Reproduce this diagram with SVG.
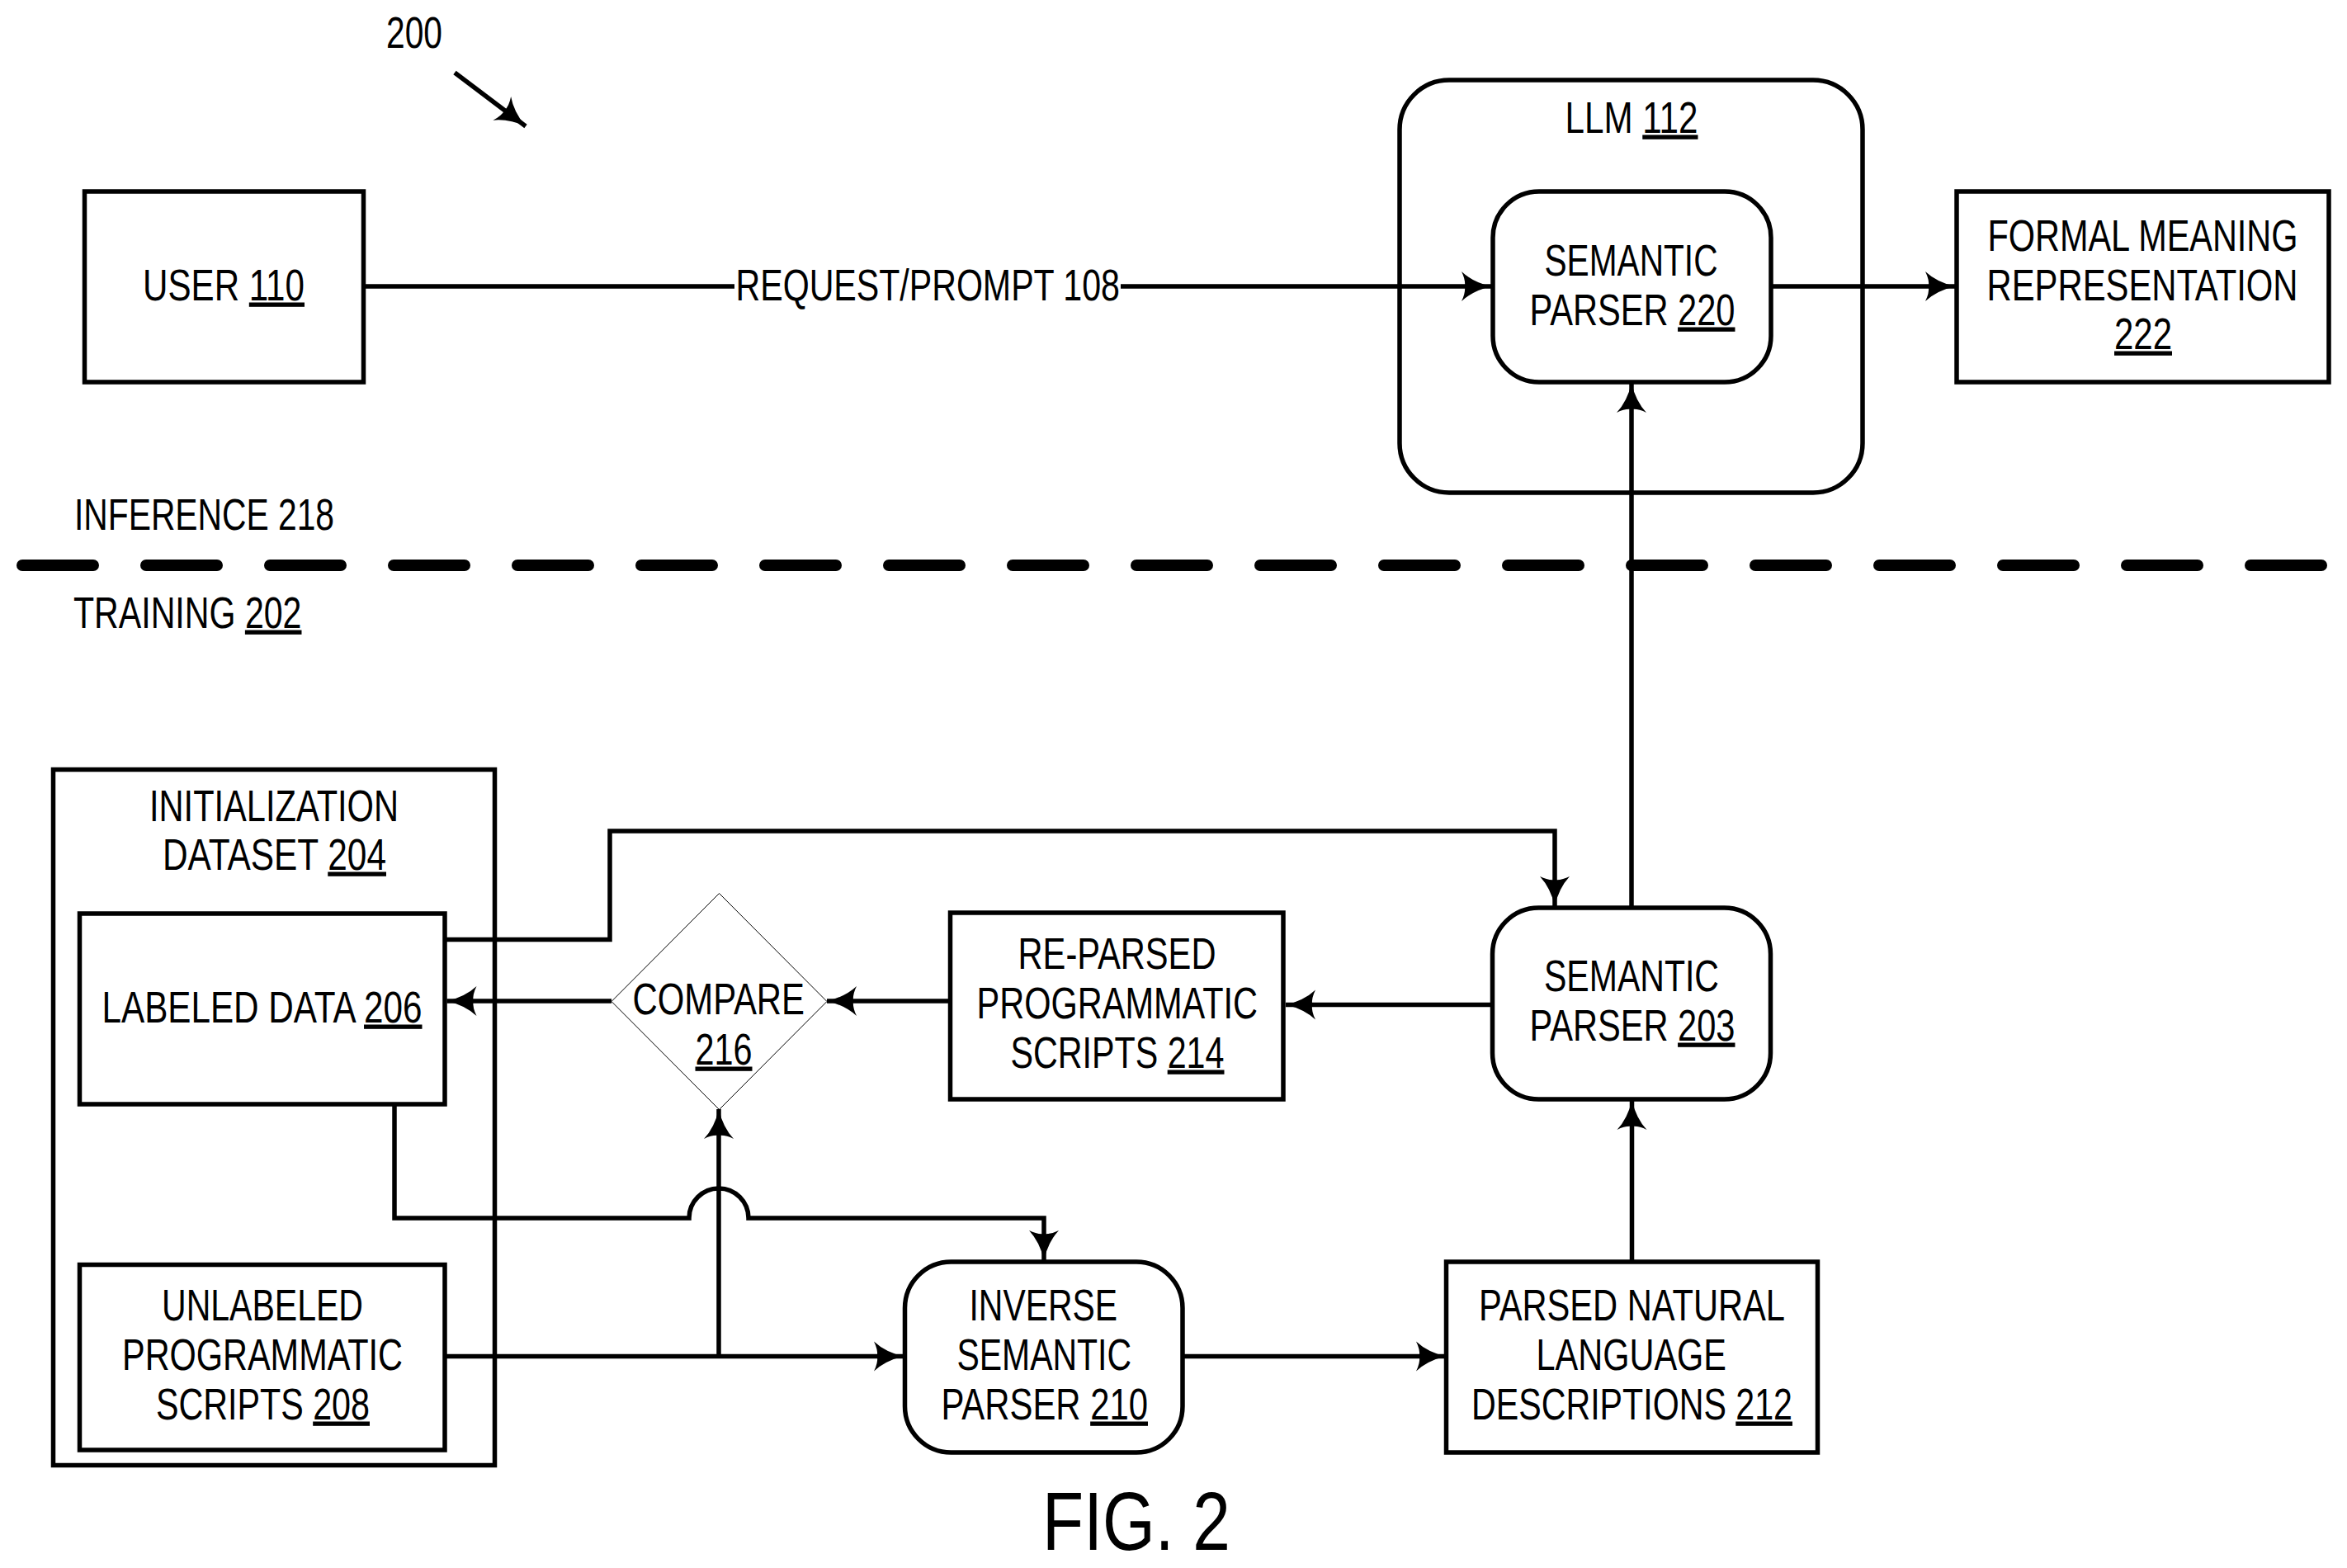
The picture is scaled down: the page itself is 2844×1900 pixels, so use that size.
<svg xmlns="http://www.w3.org/2000/svg" width="2844" height="1900" viewBox="0 0 2844 1900">
<style>
text{font-family:"Liberation Sans Narrow","Liberation Sans",Arial,sans-serif;font-size:53px;fill:#000}
.fig{font-size:100px}
.u{text-decoration:underline}
.b{fill:#fff;stroke:#000;stroke-width:5.5}
.c{fill:none;stroke:#000;stroke-width:5.5}
.a{marker-end:url(#ah)}
</style>
<defs>
<marker id="ah" markerUnits="userSpaceOnUse" markerWidth="40" markerHeight="40" refX="36" refY="20" orient="auto" overflow="visible">
<path d="M36 20Q14 15 0 2Q5 12 4 20Q5 28 0 38Q14 25 36 20Z" fill="#000"/>
</marker>
</defs>
<rect width="2844" height="1900" fill="#fff"/>
<g id="nodes">
<g id="user"><rect class="b" x="102.5" y="232" width="338" height="231"/><text x="173" y="363.5" textLength="196" lengthAdjust="spacingAndGlyphs">USER <tspan class="u">110</tspan></text></g>
<g id="llm"><rect class="b" x="1696" y="97" width="561" height="500" rx="60" ry="60"/><text x="1896.5" y="160.5" textLength="161" lengthAdjust="spacingAndGlyphs">LLM <tspan class="u">112</tspan></text></g>
<g id="parser220"><rect class="b" x="1809" y="232" width="337" height="231" rx="56" ry="56"/><text x="1871.5" y="333.5" textLength="210" lengthAdjust="spacingAndGlyphs">SEMANTIC</text><text x="1853.5" y="393.5" textLength="249" lengthAdjust="spacingAndGlyphs">PARSER <tspan class="u">220</tspan></text></g>
<g id="formal"><rect class="b" x="2371" y="232" width="451" height="231"/><text x="2408.5" y="303.5" textLength="376" lengthAdjust="spacingAndGlyphs">FORMAL MEANING</text><text x="2407.5" y="363.5" textLength="377" lengthAdjust="spacingAndGlyphs">REPRESENTATION</text><text class="u" x="2562" y="422.5" textLength="70" lengthAdjust="spacingAndGlyphs">222</text></g>
<g id="init"><rect class="b" x="64.5" y="932.5" width="535" height="843"/><text x="181" y="994.5" textLength="302" lengthAdjust="spacingAndGlyphs">INITIALIZATION</text><text x="197" y="1053.5" textLength="271" lengthAdjust="spacingAndGlyphs">DATASET <tspan class="u">204</tspan></text></g>
<g id="labeled"><rect class="b" x="96.5" y="1107" width="442.5" height="231"/><text x="123.5" y="1238.5" textLength="388" lengthAdjust="spacingAndGlyphs">LABELED DATA <tspan class="u">206</tspan></text></g>
<g id="unlabeled"><rect class="b" x="96.5" y="1532.5" width="442.5" height="224.5"/><text x="196" y="1599.5" textLength="244" lengthAdjust="spacingAndGlyphs">UNLABELED</text><text x="148" y="1659.5" textLength="340" lengthAdjust="spacingAndGlyphs">PROGRAMMATIC</text><text x="189" y="1719.5" textLength="259" lengthAdjust="spacingAndGlyphs">SCRIPTS <tspan class="u">208</tspan></text></g>
<g id="compare"><polygon points="871.5,1082.5 1002,1213.5 871.5,1344.5 741,1213.5" fill="#fff" stroke="#000" stroke-width="1"/><text x="766.5" y="1228.5" textLength="208.5" lengthAdjust="spacingAndGlyphs">COMPARE</text><text class="u" x="842.5" y="1289.5" textLength="69" lengthAdjust="spacingAndGlyphs">216</text></g>
<g id="reparsed"><rect class="b" x="1151.5" y="1106" width="403.5" height="226"/><text x="1233.5" y="1173.5" textLength="240" lengthAdjust="spacingAndGlyphs">RE-PARSED</text><text x="1183.5" y="1233.5" textLength="340.5" lengthAdjust="spacingAndGlyphs">PROGRAMMATIC</text><text x="1224.5" y="1293.5" textLength="259" lengthAdjust="spacingAndGlyphs">SCRIPTS <tspan class="u">214</tspan></text></g>
<g id="parser203"><rect class="b" x="1808.5" y="1100" width="337" height="232" rx="56" ry="56"/><text x="1871" y="1200.5" textLength="212" lengthAdjust="spacingAndGlyphs">SEMANTIC</text><text x="1853.5" y="1260.5" textLength="249" lengthAdjust="spacingAndGlyphs">PARSER <tspan class="u">203</tspan></text></g>
<g id="inverse"><rect class="b" x="1096.5" y="1529" width="336.5" height="231" rx="56" ry="56"/><text x="1174.5" y="1599.5" textLength="179.5" lengthAdjust="spacingAndGlyphs">INVERSE</text><text x="1159.5" y="1659.5" textLength="211.5" lengthAdjust="spacingAndGlyphs">SEMANTIC</text><text x="1140.5" y="1719.5" textLength="250.5" lengthAdjust="spacingAndGlyphs">PARSER <tspan class="u">210</tspan></text></g>
<g id="parsed"><rect class="b" x="1752.5" y="1529" width="450" height="231"/><text x="1792" y="1599.5" textLength="371" lengthAdjust="spacingAndGlyphs">PARSED NATURAL</text><text x="1861.5" y="1659.5" textLength="230.5" lengthAdjust="spacingAndGlyphs">LANGUAGE</text><text x="1783" y="1719.5" textLength="389" lengthAdjust="spacingAndGlyphs">DESCRIPTIONS <tspan class="u">212</tspan></text></g>
</g>
<g id="labels">
<text x="468" y="57.5" textLength="68" lengthAdjust="spacingAndGlyphs">200</text>
<text x="891.5" y="363.5" textLength="465.5" lengthAdjust="spacingAndGlyphs">REQUEST/PROMPT 108</text>
<text x="90" y="641.5" textLength="315" lengthAdjust="spacingAndGlyphs">INFERENCE 218</text>
<text x="89" y="760.5" textLength="276.5" lengthAdjust="spacingAndGlyphs">TRAINING <tspan class="u">202</tspan></text>
<text class="fig" x="1263" y="1878" textLength="228" lengthAdjust="spacingAndGlyphs">FIG. 2</text>
</g>
<line id="divider" x1="27" y1="685" x2="2813" y2="685" fill="none" stroke="#000" stroke-width="14" stroke-linecap="round" stroke-dasharray="86 64"/>
<g id="connectors">
<path class="c a" d="M551 88L637 153"/>
<path class="c" d="M440 347H890"/>
<path class="c a" d="M1358 347H1807"/>
<path class="c a" d="M2146 347H2369"/>
<path class="c a" d="M1977 1100V464"/>
<path class="c a" d="M540 1138.5H739V1007H1884V1098"/>
<path class="c a" d="M1809 1217.5H1558"/>
<path class="c a" d="M1151.5 1213H1002"/>
<path class="c a" d="M741 1213H541.5"/>
<path class="c a" d="M1977.5 1529V1333"/>
<path class="c a" d="M540 1643.5H1095"/>
<path class="c a" d="M871 1643.5V1344"/>
<path class="c a" d="M478 1338V1476H835A36 36 0 0 1 907 1476H1265V1527"/>
<path class="c a" d="M1433.5 1643.5H1752"/>
</g>
</svg>
